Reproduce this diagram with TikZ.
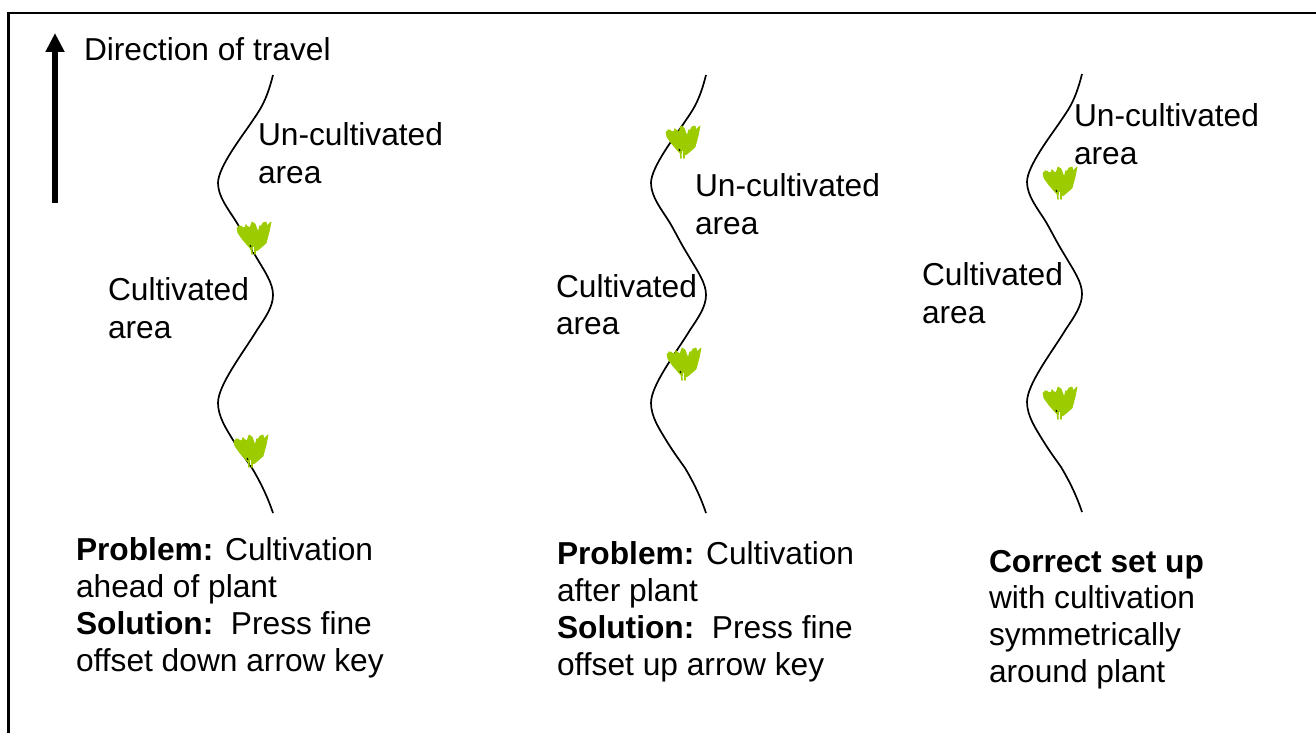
\documentclass[tikz,border=0pt]{standalone}
\usepackage{fontspec}
\setmainfont{Liberation Sans}
\usetikzlibrary{arrows.meta}
\definecolor{plantgreen}{HTML}{9CCC00}
\tikzset{
  x=1pt,y=-1pt,
  wave/.style={line width=1.7pt,black,line join=round},
  lab/.style={anchor=north west,inner sep=0pt,outer sep=0pt,align=left,font=\fontsize{31.7}{38}\selectfont},
  labtight/.style={lab,font=\fontsize{31.7}{36.7}\selectfont},
  frameline/.style={line width=2.2pt,black},
  travelarrow/.style={line width=6pt,-{Triangle[length=19pt,width=18pt]}},
  leaf/.style={fill=plantgreen,draw=plantgreen,line width=0.8pt,line join=round},
  leafstroke/.style={draw=plantgreen,line width=1.6pt,line cap=round},
  plant/.pic={
    \path[leaf] (-17,-10) -- (-13,-12) -- (-11,-10) -- (-7,-12) -- (-4,-10) -- (-2,-16) -- (1,-14)
      -- (4,-6) -- (9,-15) -- (12,-16) -- (13,-12) -- (17,-16) -- (15,-6) -- (12,5) -- (4,12)
      -- (1,13) -- (-4,10) -- (-11,2) -- (-16,-5) -- cycle;
    \path[leafstroke] (-15,-12) -- (-10,0);
    \path[leafstroke] (-8,-13) -- (-5,2);
    \path[leafstroke] (6,-12) -- (3,2);
    \path[leafstroke] (-3,6) -- (-2,16);
    \path[leafstroke] (1,6) -- (1,16);
    \draw[black,line width=1pt] (-4,7) -- (-3,9);
    \draw[white,line width=0.6pt] (-1,9) -- (-1,14);
  },
  wavepic/.pic={
    \draw[wave] (0,0) .. controls (-7,28) and (-14,36) .. (-22,48)
      .. controls (-30,60) and (-55,92) .. (-55,108)
      .. controls (-55,122) and (-44,135) .. (-36,148)
      .. controls (-28,162) and (-26,167) .. (-18,180)
      .. controls (-8,197) and (0,208) .. (0,220)
      .. controls (0,232) and (-8,243) .. (-16,255)
      .. controls (-30,278) and (-55,310) .. (-55,328)
      .. controls (-55,342) and (-46,355) .. (-40,365)
      .. controls (-32,378) and (-28,383) .. (-21,393)
      .. controls (-12,408) and (-5,423) .. (0,438);
  }
}
\begin{document}
\begin{tikzpicture}
\useasboundingbox (0,0) rectangle (1316,733);
\coordinate (frameBL) at (8.5,733);
\coordinate (frameTL) at (8.5,13);
\coordinate (frameTR) at (1316,13);
\draw[frameline] (frameBL) -- (frameTL) -- (frameTR);
\coordinate (arrowTail) at (55,203);
\coordinate (arrowHead) at (55,33);
\draw[travelarrow] (arrowTail) -- (arrowHead);
\node[lab] (dir) at (84,38) {Direction of travel};

\pic at (273,75) {wavepic};
\pic at (254,238) {plant};
\pic at (251,451) {plant};
\node[lab] (un1) at (258,123) {Un-cultivated\\area};
\node[lab] (cu1) at (108,278) {Cultivated\\area};
\node[labtight] (t1) at (76,538) {\textbf{Problem:} Cultivation\\ahead of plant\\\textbf{Solution:}\ \ Press fine\\offset down arrow key};

\pic at (706,75) {wavepic};
\pic at (683,142) {plant};
\pic at (684,364) {plant};
\node[lab] (un2) at (695,174) {Un-cultivated\\area};
\node[labtight] (cu2) at (556,275) {Cultivated\\area};
\node[labtight] (t2) at (557,542) {\textbf{Problem:} Cultivation\\after plant\\\textbf{Solution:}\ \ Press fine\\offset up arrow key};

\pic at (1082,74) {wavepic};
\pic at (1060,183) {plant};
\pic at (1060,403) {plant};
\node[lab] (un3) at (1074,104) {Un-cultivated\\area};
\node[lab] (cu3) at (922,263) {Cultivated\\area};
\node[labtight] (t3) at (989,550) {\textbf{Correct set up}\\with cultivation\\symmetrically\\around plant};
\end{tikzpicture}
\end{document}
